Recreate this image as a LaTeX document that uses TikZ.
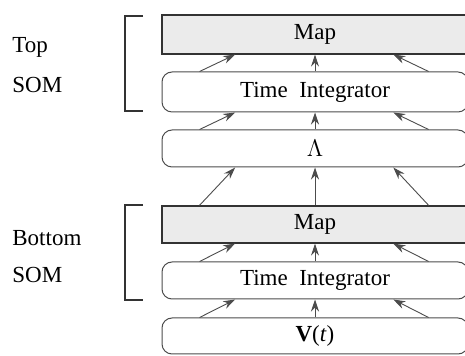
\documentclass[tikz,border=0pt]{standalone}
\usepackage{fontspec}
\setmainfont{Liberation Serif}
\usetikzlibrary{arrows.meta,calc}

\begin{document}
\begin{tikzpicture}[x=0.5pt,y=-0.5pt,
  font=\fontsize{11.5}{13}\selectfont,
  mapbox/.style={draw=black!80,fill=black!8,line width=0.6pt,
    minimum width=153pt,minimum height=#1,inner sep=0pt},
  stage/.style={draw=black!70,rounded corners=5pt,line width=0.5pt,
    minimum width=153pt,minimum height=#1,inner sep=0pt},
  flow/.style={draw=black!70,line width=0.45pt,
    -{Stealth[length=6pt,width=4pt]}},
  bracket/.style={draw=black!80,line width=0.6pt},
  side/.style={anchor=west,inner sep=0pt}
]
\useasboundingbox (0,0) rectangle (465,356);

% processing stages, top to bottom
\node[mapbox=19.5pt] (map1) at (315,34.5) {Map};
\node[stage=20pt]    (ti1)  at (315,92)   {Time\ \ Integrator};
\node[stage=18.5pt]  (lam)  at (315,148.5) {$\Lambda$};
\node[mapbox=18.5pt] (map2) at (315,224.5) {Map};
\node[stage=18.5pt]  (ti2)  at (315,280.5) {Time\ \ Integrator};
\node[stage=18pt]    (vt)   at (315,336)   {\textbf{V}(\textit{t})};

% three connectors between each pair of stacked stages
\foreach \lo/\hi in {vt/ti2, ti2/map2, map2/lam, lam/ti1, ti1/map1}{
  \draw[flow] ($(\lo.north west)!0.124!(\lo.north east)$)
           -- ($(\hi.south west)!0.24!(\hi.south east)$);
  \draw[flow] (\lo.north) -- (\hi.south);
  \draw[flow] ($(\lo.north west)!0.87!(\lo.north east)$)
           -- ($(\hi.south west)!0.755!(\hi.south east)$);
}

% brackets grouping each SOM
\coordinate (b1t) at (125,16);
\coordinate (b1b) at (125,111);
\draw[bracket] ($(b1t)+(18,0)$) -- (b1t) -- (b1b) -- ($(b1b)+(18,0)$);
\coordinate (b2t) at (125,205);
\coordinate (b2b) at (125,300);
\draw[bracket] ($(b2t)+(18,0)$) -- (b2t) -- (b2b) -- ($(b2b)+(18,0)$);

% group labels
\node[side] (top)  at (12,47)  {Top};
\node[side] (som1) at (12,85)  {SOM};
\node[side] (bot)  at (12,238) {Bottom};
\node[side] (som2) at (12,275) {SOM};
\end{tikzpicture}
\end{document}
